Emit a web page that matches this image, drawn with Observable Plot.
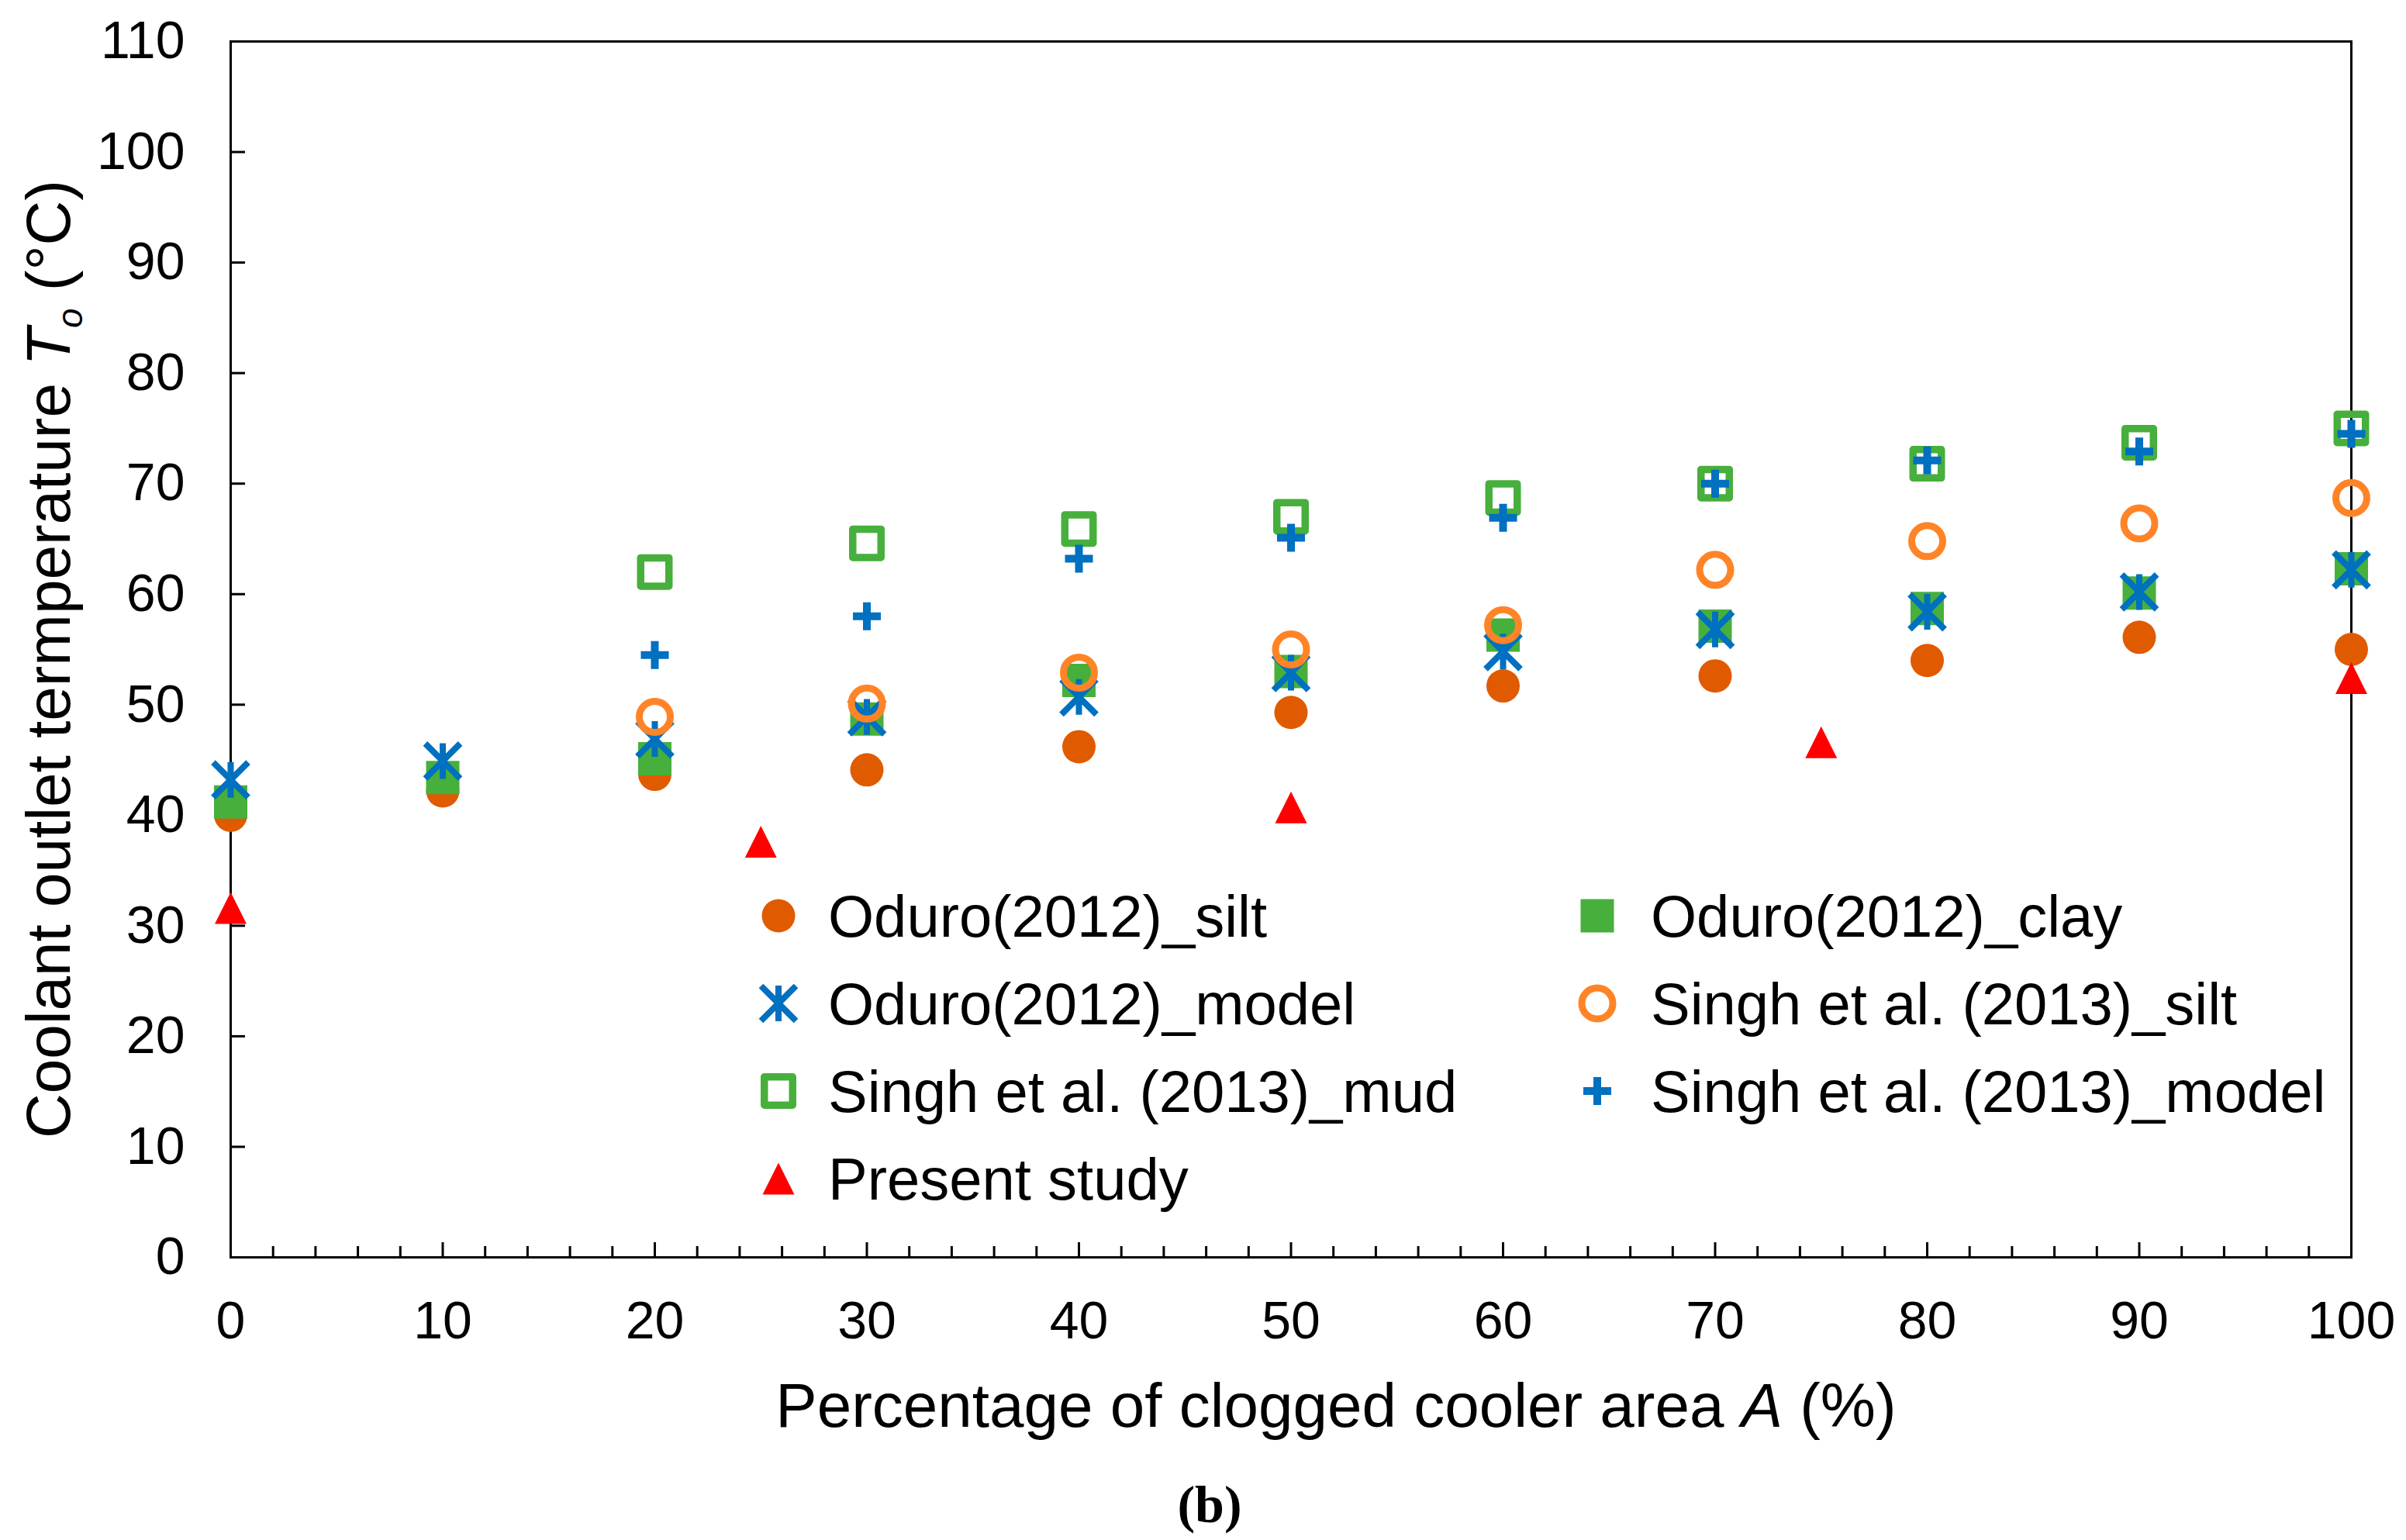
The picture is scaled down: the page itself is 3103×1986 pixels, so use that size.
<!DOCTYPE html>
<html>
<head>
<meta charset="utf-8">
<script src="https://cdn.jsdelivr.net/npm/d3@7"></script>
<script src="https://cdn.jsdelivr.net/npm/@observablehq/plot@0.6"></script>
<style>
  html, body { margin: 0; padding: 0; background: #fff; }
  #chart svg { display: block; }
  #caption {
    font-family: "Liberation Serif", "Times New Roman", serif;
    font-weight: bold; font-size: 68px; color: #000;
    height: 91px; line-height: 91px; text-align: center; padding-left: 17px;
  }
</style>
</head>
<body>
<div id="chart"></div>
<div id="caption">(b)</div>
<script>
// ---------------- data ----------------
const xOduro = [0, 10, 20, 30, 40, 50, 60, 70, 80, 90, 100];
const oduroSilt  = [40.0, 42.2, 43.7, 44.1, 46.2, 49.3, 51.7, 52.6, 54.0, 56.1, 55.0];
const oduroClay  = [41.2, 43.4, 45.1, 48.7, 52.2, 53.0, 56.3, 57.1, 58.7, 60.1, 62.3];
const oduroModel = [43.2, 44.9, 46.9, 48.9, 50.7, 52.9, 54.8, 56.8, 58.4, 60.2, 62.2];

const xSingh = [20, 30, 40, 50, 60, 70, 80, 90, 100];
const singhSilt  = [48.9, 50.1, 52.9, 55.0, 57.2, 62.2, 64.8, 66.4, 68.7];
const singhMud   = [62.0, 64.6, 65.9, 67.0, 68.7, 70.0, 71.8, 73.7, 75.0];
const singhModel = [54.5, 58.0, 63.2, 65.1, 66.9, 70.0, 72.1, 72.9, 74.5];

const xPresent = [0, 25, 50, 75, 100];
const present  = [31.6, 37.6, 40.7, 46.6, 52.4];

const xTickLabels = [0, 10, 20, 30, 40, 50, 60, 70, 80, 90, 100];
const yTickLabels = [0, 10, 20, 30, 40, 50, 60, 70, 80, 90, 100, 110];
const xMinorTicks = d3.range(0, 101, 2).filter(d => d % 10 !== 0);

const seriesNames = [
  "Oduro(2012)_silt", "Oduro(2012)_clay", "Oduro(2012)_model",
  "Singh et al. (2013)_silt", "Singh et al. (2013)_mud", "Singh et al. (2013)_model",
  "Present study"
];

// ---------------- marker shapes ----------------
const symSquare = { draw(ctx, size) { const r = Math.sqrt(size / Math.PI); ctx.rect(-r, -r, 2 * r, 2 * r); } };
const symStar = { draw(ctx, size) {
  const r = Math.sqrt(size / Math.PI), d = 0.98 * r;
  ctx.moveTo(0, -r); ctx.lineTo(0, r);
  ctx.moveTo(-d, -d); ctx.lineTo(d, d);
  ctx.moveTo(-d, d); ctx.lineTo(d, -d);
} };
const symPlus = { draw(ctx, size) {
  const r = Math.sqrt(size / Math.PI);
  ctx.moveTo(-r, 0); ctx.lineTo(r, 0);
  ctx.moveTo(0, -r); ctx.lineTo(0, r);
} };
const symTri = { draw(ctx, size) {
  const r = Math.sqrt(size / Math.PI);
  ctx.moveTo(0, -r); ctx.lineTo(r, r); ctx.lineTo(-r, r); ctx.closePath();
} };

const GREEN = "#47AF3C", BLUE = "#0070C0", DARKORANGE = "#E05A00", ORANGE = "#FF8427", RED = "#FF0000";

const styles = [
  { sym: d3.symbolCircle, r: 21.5, fill: DARKORANGE, stroke: "none", sw: 0 },
  { sym: symSquare, r: 21.5, fill: GREEN, stroke: "none", sw: 0 },
  { sym: symStar, r: 23, fill: "none", stroke: BLUE, sw: 8 },
  { sym: d3.symbolCircle, r: 20, fill: "none", stroke: ORANGE, sw: 9 },
  { sym: symSquare, r: 18.25, fill: "none", stroke: GREEN, sw: 9.5 },
  { sym: symPlus, r: 18, fill: "none", stroke: BLUE, sw: 10 },
  { sym: symTri, r: 20.5, fill: RED, stroke: "none", sw: 0 }
];

const seriesData = [
  [xOduro, oduroSilt], [xOduro, oduroClay], [xOduro, oduroModel],
  [xSingh, singhSilt], [xSingh, singhMud], [xSingh, singhModel],
  [xPresent, present]
];

const dotMarks = seriesData.map(([xs, ys], i) => {
  const s = styles[i];
  const rows = xs.map((x, j) => ({ x, y: ys[j] }));
  return Plot.dot(rows, {
    x: "x", y: "y", r: s.r,
    symbol: s.sym === d3.symbolCircle ? "circle" : s.sym,
    fill: s.fill, stroke: s.stroke, strokeWidth: s.sw,
    strokeLinejoin: i === 4 ? "round" : "miter"
  });
});

// ---------------- plot ----------------
const W = 3103, H = 1895;
const plotBottom = 1621;
const chart = Plot.plot({
  width: W, height: H,
  marginLeft: 297, marginRight: 71, marginTop: 53, marginBottom: H - plotBottom,
  x: { domain: [0, 100] },
  y: { domain: [0, 110] },
  style: { fontFamily: "'Liberation Sans', Arial, sans-serif", fontSize: "68px", background: "#fff", color: "#000" },
  marks: [
    Plot.axisY(yTickLabels, { anchor: "left", tickSize: -19, tickPadding: 78, strokeWidth: 3, label: null, fontSize: 68, tickFormat: d => String(d) }),
    Plot.axisX(xTickLabels, { anchor: "bottom", tickSize: -19, tickPadding: 75, strokeWidth: 3, label: null, fontSize: 68, tickFormat: d => String(d) }),
    Plot.axisX(xMinorTicks, { anchor: "bottom", tickSize: -14, tickPadding: 0, strokeWidth: 3, label: null, tickFormat: () => "" }),
    Plot.frame({ stroke: "#000", strokeWidth: 3 }),
    ...dotMarks
  ]
});
document.getElementById("chart").appendChild(chart);

// ---------------- axis titles ----------------
const svg = d3.select(chart);
const FONT = "'Liberation Sans', Arial, sans-serif";

const xt = svg.append("text")
  .attr("x", 1723).attr("y", 1840)
  .attr("text-anchor", "middle")
  .attr("font-family", FONT).attr("font-size", 80).attr("fill", "#000");
xt.append("tspan").text("Percentage of clogged cooler area ");
xt.append("tspan").attr("font-style", "italic").text("A");
xt.append("tspan").text(" (%)");

const yt = svg.append("text")
  .attr("transform", "translate(90,850) rotate(-90)")
  .attr("text-anchor", "middle")
  .attr("font-family", FONT).attr("font-size", 80).attr("fill", "#000");
yt.append("tspan").text("Coolant outlet termperature ");
yt.append("tspan").attr("font-style", "italic").text("T");
yt.append("tspan").attr("font-style", "italic").attr("font-size", 46).attr("dy", 16).text("o");
yt.append("tspan").attr("dy", -16).text(" (°C)");

// ---------------- legend ----------------
const legendOrder = [
  { i: 0, col: 0, row: 0 }, { i: 1, col: 1, row: 0 },
  { i: 2, col: 0, row: 1 }, { i: 3, col: 1, row: 1 },
  { i: 4, col: 0, row: 2 }, { i: 5, col: 1, row: 2 },
  { i: 6, col: 0, row: 3 }
];
const colMarkerX = [1004, 2060], colTextX = [1068, 2129];
const rowY = [1181, 1294, 1407, 1520];
const lg = svg.append("g").attr("text-anchor", "start");
legendOrder.forEach(({ i, col, row }) => {
  const s = styles[i];
  lg.append("path")
    .attr("transform", `translate(${colMarkerX[col]},${rowY[row]})`)
    .attr("d", d3.symbol(s.sym, Math.PI * s.r * s.r)())
    .attr("fill", s.fill).attr("stroke", s.stroke).attr("stroke-width", s.sw)
    .attr("stroke-linejoin", i === 4 ? "round" : "miter");
  lg.append("text")
    .attr("x", colTextX[col]).attr("y", rowY[row] + 27)
    .attr("text-anchor", "start")
    .attr("font-family", FONT).attr("font-size", 76).attr("fill", "#000")
    .text(seriesNames[i]);
});
</script>
</body>
</html>
